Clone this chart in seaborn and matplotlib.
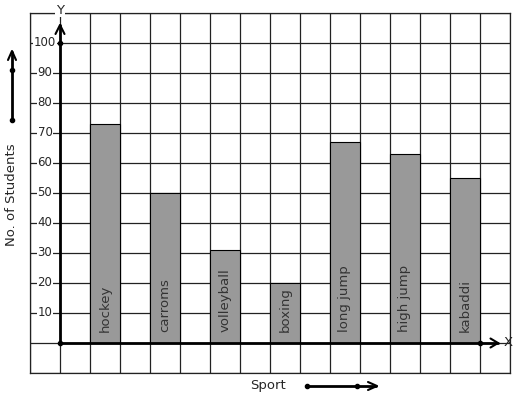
import matplotlib
matplotlib.use("Agg")
import matplotlib.pyplot as plt
import seaborn as sns
import pandas as pd
from matplotlib.lines import Line2D

sports = ["hockey", "carroms", "volleyball", "boxing", "long jump", "high jump", "kabaddi"]
students = [73, 50, 31, 20, 67, 63, 55]
y_ticks = [10, 20, 30, 40, 50, 60, 70, 80, 90, 100]

positions = [1.5 + 2 * i for i in range(len(sports))]
df = pd.DataFrame({"pos": positions, "students": students, "sport": sports})

sns.set_style("white")
plt.rcParams['font.family'] = ['DejaVu Sans']

W, H = 517, 399
fig = plt.figure(figsize=(W / 100, H / 100), dpi=100)
ax = fig.add_axes([30 / W, (H - 373) / H, 480 / W, 360 / H])

sns.barplot(data=df, x="pos", y="students", native_scale=True, width=0.5,
            color="#999999", saturation=1, edgecolor="black", linewidth=0.8,
            ax=ax, zorder=3)

ax.set_xlim(-1, 15)
ax.set_ylim(-10, 110)
ax.set_xticks(range(-1, 16))
ax.set_yticks(range(-10, 111, 10))
ax.grid(True, color="#222222", linewidth=0.9, zorder=0)
ax.set_axisbelow(True)
ax.tick_params(length=0, labelbottom=False, labelleft=False)
for s in ax.spines.values():
    s.set_color("#222222")
    s.set_linewidth(0.9)
ax.set_xlabel("")
ax.set_ylabel("")

# main axes lines
ax.plot([0, 0], [0, 106], color="black", lw=2, zorder=5, clip_on=False)
ax.plot([0, 14.6], [0, 0], color="black", lw=2, zorder=5, clip_on=False)
# arrow heads
ax.plot([-0.15, 0, 0.15], [103, 106, 103], color="black", lw=1.5, zorder=5, clip_on=False)
ax.plot([14.35, 14.6, 14.35], [1.5, 0, -1.5], color="black", lw=1.5, zorder=5, clip_on=False)
# dots
ax.plot([0, 0, 14], [0, 100, 0], "o", color="black", ms=3, zorder=6, clip_on=False)
ax.text(0, 111, "Y", ha="center", va="center", fontsize=9.5,
        bbox=dict(facecolor="white", edgecolor="none", pad=0.5), zorder=7)
ax.text(14.93, 0, "X", ha="center", va="center", fontsize=9.5, zorder=7, clip_on=False)

for t in y_ticks:
    ax.text(-0.5, t, str(t), ha="center", va="center", fontsize=8.5,
            bbox=dict(facecolor="white", edgecolor="none", pad=0.3), zorder=7)

for p, s in zip(positions, sports):
    ax.annotate(s, (p, 0), xytext=(0, 8), textcoords="offset points",
                rotation=90, ha="center", va="bottom", fontsize=9.5,
                color="#333333", zorder=8)

def fx(x):
    return x / W

def fy(y):
    return 1 - y / H

# left vertical arrow
fig.add_artist(Line2D([fx(12), fx(12)], [fy(120), fy(52)], color="black", lw=2))
fig.add_artist(Line2D([fx(8), fx(12), fx(16)], [fy(60), fy(51), fy(60)], color="black", lw=1.5))
fig.add_artist(Line2D([fx(12), fx(12)], [fy(120), fy(70)], color="black", lw=0,
                      marker="o", ms=3))
# bottom horizontal arrow
fig.add_artist(Line2D([fx(307), fx(376)], [fy(386), fy(386)], color="black", lw=2))
fig.add_artist(Line2D([fx(368), fx(377), fx(368)], [fy(382), fy(386), fy(390)], color="black", lw=1.5))
fig.add_artist(Line2D([fx(307), fx(357)], [fy(386), fy(386)], color="black", lw=0,
                      marker="o", ms=3))

fig.text(fx(12), fy(195), "No. of Students", rotation=90, ha="center", va="center", fontsize=9.5)
fig.text(fx(268), fy(385), "Sport", ha="center", va="center", fontsize=9.5)

fig.savefig("out.png", dpi=100)
